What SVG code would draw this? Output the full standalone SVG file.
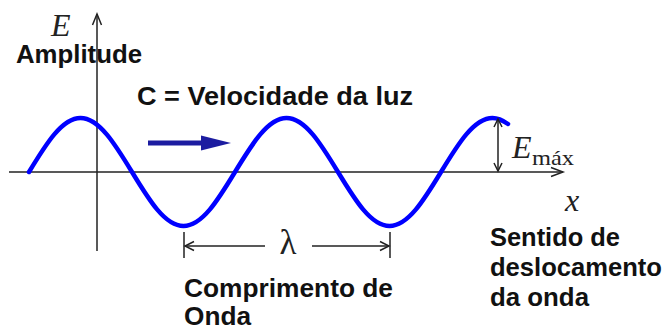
<svg xmlns="http://www.w3.org/2000/svg" width="665" height="329" viewBox="0 0 665 329">
<style>
.lbl{font-family:"Liberation Sans",Arial,sans-serif;font-weight:bold;font-size:25px;fill:#111}
.ser{font-family:"Liberation Serif","Times New Roman",serif;fill:#222}
.ax{stroke:#222;stroke-width:1.5;fill:none}
.head{stroke:#222;stroke-width:1.5;fill:none;stroke-linejoin:miter}
</style>
<rect width="665" height="329" fill="#fff"/>
<g id="axes">
  <line class="ax" x1="97" y1="14" x2="97" y2="251"/>
  <polyline class="head" points="92.5,25 97,14 101.5,25"/>
  <line class="ax" x1="9" y1="172" x2="563" y2="172"/>
  <polyline class="head" points="551,167.5 563,172 551,176.5"/>
  <text class="ser" x="51" y="36" font-size="32" font-style="italic">E</text>
  <text class="ser" x="565" y="211" font-size="32" font-style="italic">x</text>
</g>
<g id="wave">
  <path d="M29,172 C45.8,144.34 61.86,118 80.5,118 C99.14,118 115.2,144.34 132,172 C148.8,199.66 164.86,226 183.5,226 C202.14,226 218.2,199.66 235,172 C251.8,144.34 267.86,118 286.5,118 C305.14,118 321.2,144.34 338,172 C354.8,199.66 370.86,226 389.5,226 C408.14,226 424.2,199.66 441,172 C457.8,144.34 473.86,118 492.5,118 C498,118 503,120.5 508,124" fill="none" stroke="#0000ff" stroke-width="4.5" stroke-linecap="round"/>
</g>
<g id="amplitude">
  <text class="lbl" x="16" y="63" textLength="126" lengthAdjust="spacingAndGlyphs">Amplitude</text>
</g>
<g id="velocity">
  <text class="lbl" x="137" y="105" textLength="276" lengthAdjust="spacingAndGlyphs">C = Velocidade da luz</text>
  <line x1="148" y1="143" x2="205" y2="143" stroke="#1c1ca0" stroke-width="5"/>
  <polygon points="201,135.5 231,143 201,150.5" fill="#1c1ca0"/>
</g>
<g id="emax">
  <line class="ax" x1="498" y1="119" x2="498" y2="171"/>
  <polyline class="head" points="494,127 498,119 502,127"/>
  <polyline class="head" points="494,163 498,171 502,163"/>
  <text class="ser" x="512" y="158" font-size="32" font-style="italic">E</text>
  <text class="ser" x="532" y="165" font-size="21" textLength="42" lengthAdjust="spacingAndGlyphs">máx</text>
</g>
<g id="wavelength">
  <line class="ax" x1="184" y1="232" x2="184" y2="258"/>
  <line class="ax" x1="390" y1="232" x2="390" y2="258"/>
  <line class="ax" x1="185" y1="246" x2="265" y2="246"/>
  <polyline class="head" points="194,241.5 185,246 194,250.5"/>
  <line class="ax" x1="312" y1="246" x2="389" y2="246"/>
  <polyline class="head" points="380,241.5 389,246 380,250.5"/>
  <text class="ser" x="288" y="254" font-size="35" text-anchor="middle">λ</text>
  <text class="lbl" x="184" y="297" textLength="209" lengthAdjust="spacingAndGlyphs">Comprimento de</text>
  <text class="lbl" x="184" y="325" textLength="67" lengthAdjust="spacingAndGlyphs">Onda</text>
</g>
<g id="direction">
  <text class="lbl" x="490" y="246" textLength="130" lengthAdjust="spacingAndGlyphs">Sentido de</text>
  <text class="lbl" x="490" y="276" textLength="172" lengthAdjust="spacingAndGlyphs">deslocamento</text>
  <text class="lbl" x="490" y="306" textLength="99" lengthAdjust="spacingAndGlyphs">da onda</text>
</g>
</svg>
